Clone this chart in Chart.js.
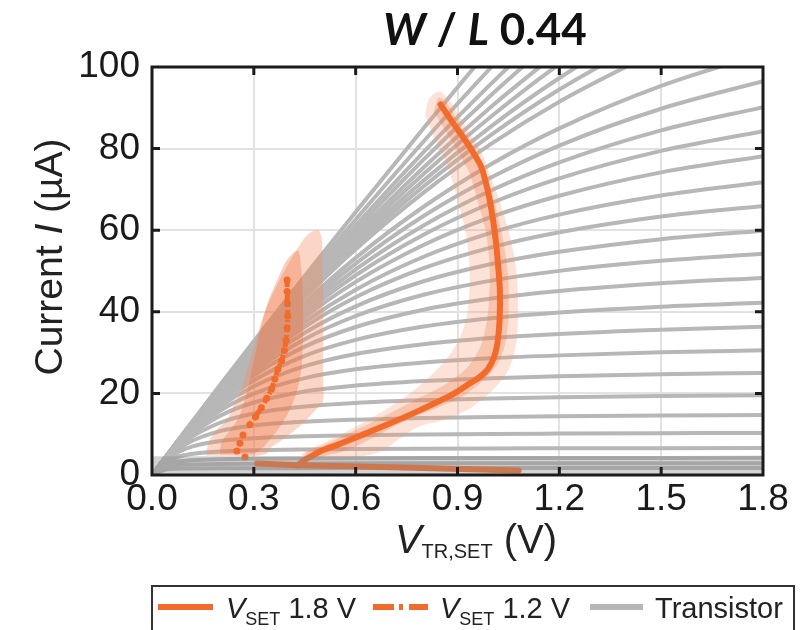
<!DOCTYPE html>
<html>
<head>
<meta charset="utf-8">
<script src="https://cdn.jsdelivr.net/npm/chart.js@4.4.1/dist/chart.umd.min.js"></script>
<style>
  html, body { margin: 0; padding: 0; background: #fff; }
  #wrap { width: 807px; height: 630px; position: relative; }
</style>
</head>
<body>
<div id="wrap"><canvas id="chart"></canvas></div>
<script>
// axis ticks
const xTicks = [0, 0.3, 0.6, 0.9, 1.2, 1.5, 1.8];
const yTicks = [0, 20, 40, 60, 80, 100];

// transistor output curves, current (uA) sampled at these voltages
const vGrid = [0, 0.05, 0.1, 0.2, 0.3, 0.45, 0.6, 0.8, 1.0, 1.2, 1.5, 1.8];
const transistorI = [
    [0, 1.46, 1.58, 1.64, 1.66, 1.68, 1.69, 1.69, 1.70, 1.70, 1.70, 1.70],
    [0, 2.24, 2.55, 2.72, 2.78, 2.83, 2.85, 2.87, 2.88, 2.88, 2.89, 2.90],
    [0, 2.87, 3.50, 3.84, 3.97, 4.06, 4.11, 4.14, 4.16, 4.18, 4.19, 4.20],
    [0, 3.62, 4.94, 5.75, 6.04, 6.25, 6.37, 6.45, 6.50, 6.54, 6.58, 6.60],
    [0, 4.23, 6.49, 8.32, 9.01, 9.48, 9.74, 9.94, 10.07, 10.15, 10.24, 10.30],
    [0, 4.61, 7.62, 10.76, 12.12, 13.08, 13.57, 13.96, 14.21, 14.38, 14.56, 14.68],
    [0, 4.84, 8.41, 12.81, 15.08, 16.77, 17.66, 18.33, 18.76, 19.06, 19.36, 19.57],
    [0, 5.00, 8.97, 14.49, 17.77, 20.47, 21.91, 23.03, 23.71, 24.19, 24.69, 25.03],
    [0, 5.10, 9.36, 15.73, 19.94, 23.74, 25.90, 27.58, 28.62, 29.32, 30.06, 30.56],
    [0, 5.18, 9.65, 16.70, 21.74, 26.67, 29.67, 32.07, 33.56, 34.58, 35.61, 36.32],
    [0, 5.24, 9.86, 17.47, 23.21, 29.21, 33.11, 36.38, 38.42, 39.80, 41.24, 42.20],
    [0, 5.28, 10.04, 18.09, 24.44, 31.47, 36.28, 40.52, 43.24, 45.11, 47.00, 48.31],
    [0, 5.32, 10.17, 18.57, 25.42, 33.30, 38.97, 44.17, 47.64, 50.03, 52.49, 54.20],
    [0, 5.34, 10.27, 18.96, 26.23, 34.87, 41.34, 47.48, 51.71, 54.70, 57.80, 59.88],
    [0, 5.37, 10.37, 19.31, 26.95, 36.30, 43.55, 50.68, 55.80, 59.49, 63.37, 65.96],
    [0, 5.39, 10.44, 19.58, 27.55, 37.50, 45.43, 53.50, 59.42, 63.82, 68.50, 71.74],
    [0, 5.40, 10.51, 19.86, 28.12, 38.68, 47.33, 56.37, 63.25, 68.45, 74.18, 78.13],
    [0, 5.42, 10.57, 20.08, 28.60, 39.68, 48.95, 58.89, 66.66, 72.70, 79.44, 84.24],
    [0, 5.43, 10.62, 20.28, 29.02, 40.57, 50.38, 61.16, 69.78, 76.63, 84.48, 90.17],
    [0, 5.44, 10.67, 20.46, 29.42, 41.42, 51.81, 63.47, 72.98, 80.75, 89.77, 96.52],
    [0, 5.45, 10.71, 20.64, 29.82, 42.25, 53.22, 65.75, 76.23, 84.96, 95.37, 103.3],
    [0, 5.47, 10.78, 20.90, 30.40, 43.50, 55.31, 69.20, 81.20, 91.50, 104.4],
    [0, 5.48, 10.81, 21.02, 30.63, 44.01, 56.20, 70.71, 83.41, 94.47, 108.5],
    [0, 5.48, 10.83, 21.11, 30.86, 44.52, 57.04, 72.15, 85.52, 97.30, 112.5],
    [0, 5.49, 10.86, 21.23, 31.11, 45.07, 58.02, 73.76, 87.93, 100.7, 117.2],
    [0, 5.49, 10.89, 21.34, 31.36, 45.60, 58.93, 75.36, 90.33, 103.9],
    [0, 5.50, 10.92, 21.47, 31.65, 46.25, 60.05, 77.28, 93.20, 107.9],
    [0, 5.51, 10.95, 21.59, 31.92, 46.86, 61.10, 79.11, 95.97, 111.8],
    [0, 5.53, 10.99, 21.76, 32.31, 47.70, 62.62, 81.74, 100.0, 117.5],
    [0, 5.54, 11.05, 21.98, 32.78, 48.76, 64.47, 84.98, 105.0],
];

// V_SET 1.8 V trace
const set18V = [0.850, 0.885, 0.928, 0.950, 0.970, 0.987, 1.000, 1.012, 1.020, 1.025, 1.024, 1.018, 1.008, 0.990, 0.965, 0.937, 0.880, 0.790, 0.700, 0.604, 0.550, 0.504, 0.470, 0.445, 0.430];
const set18I = [90.8, 86.5, 81.4, 78.5, 75.5, 70.5, 65.0, 58.0, 51.0, 45.0, 38.0, 32.5, 29.0, 26.0, 24.0, 22.5, 19.5, 15.9, 12.6, 9.3, 7.5, 6.1, 4.6, 3.5, 2.3];
const set18TailV = [0.31, 0.43, 0.55, 0.80, 1.08];
const set18TailI = [2.8, 2.4, 2.2, 1.7, 1.1];

// V_SET 1.2 V trace
const set12V = [0.398, 0.398, 0.399, 0.400, 0.398, 0.395, 0.390, 0.382, 0.371, 0.362, 0.352, 0.338, 0.322, 0.305, 0.288, 0.268, 0.259, 0.250, 0.274];
const set12I = [47.8, 45.0, 42.0, 39.0, 36.0, 33.0, 30.5, 28.0, 26.0, 23.5, 21.0, 18.8, 16.5, 14.3, 12.3, 9.8, 7.8, 5.9, 4.4];

// spread envelopes (outer and inner) around the traces
const band18OuterV = [0.805, 0.815, 0.845, 0.875, 0.905, 0.935, 0.965, 0.99, 1.02, 1.05, 1.07, 1.078, 1.077, 1.068, 1.045, 1.0, 0.94, 0.86, 0.79, 0.73, 0.68, 0.62, 0.55, 0.46, 0.44, 0.47, 0.504, 0.583, 0.672, 0.76, 0.83, 0.89, 0.925, 0.935, 0.935, 0.925, 0.905, 0.885, 0.86, 0.83];
const band18OuterI = [88, 92, 94, 92, 88, 84, 80, 75, 68, 60, 52, 44, 36, 30, 25, 20.5, 16.5, 13.5, 12.0, 9.0, 6.0, 4.6, 4.3, 4.3, 5.0, 6.5, 7.8, 11.0, 15.2, 20.0, 25.0, 31.0, 38.0, 45.0, 52.0, 59.0, 66.0, 72.0, 78.0, 83.0];
const band18InnerV = [0.83, 0.845, 0.87, 0.905, 0.94, 0.97, 0.995, 1.02, 1.04, 1.05, 1.05, 1.04, 1.02, 0.98, 0.92, 0.84, 0.75, 0.66, 0.58, 0.5, 0.45, 0.455, 0.51, 0.59, 0.68, 0.77, 0.86, 0.93, 0.97, 0.99, 0.995, 0.985, 0.96, 0.935, 0.9, 0.86];
const band18InnerI = [89, 92.5, 91, 86, 81.5, 77, 71, 63, 55, 47, 39, 32, 27.5, 23.5, 19.5, 16.5, 13.5, 9.5, 6.3, 4.5, 4.2, 5.5, 7.5, 10.6, 14.2, 18.2, 22.0, 26.5, 32.0, 40.0, 50.0, 59.0, 67.0, 74.0, 79.5, 85.0];
const band12OuterV = [0.16, 0.162, 0.17, 0.195, 0.221, 0.24, 0.259, 0.275, 0.289, 0.303, 0.318, 0.335, 0.357, 0.39, 0.425, 0.46, 0.49, 0.5, 0.502, 0.504, 0.505, 0.504, 0.504, 0.486, 0.455, 0.427, 0.39, 0.348, 0.339, 0.3];
const band12OuterI = [4.8, 6.5, 8.6, 11.5, 13.5, 17, 20.1, 24.5, 28.2, 32, 36.3, 40.5, 44.6, 50, 55, 59, 60, 58, 52, 45, 35, 25, 18, 16.3, 13.5, 11.4, 9, 6.5, 5.3, 4.6];
const band12InnerV = [0.2, 0.205, 0.23, 0.255, 0.275, 0.29, 0.305, 0.32, 0.34, 0.37, 0.4, 0.43, 0.44, 0.445, 0.445, 0.44, 0.425, 0.4, 0.37, 0.33, 0.3];
const band12InnerI = [5, 8, 11, 14, 19, 24, 30, 36, 42, 48, 53, 55, 50, 42, 34, 26, 20, 15, 11, 7, 5];

// low-current shaded strip
const lowBandV = [0, 1.8, 1.8, 0];
const lowBandI = [0, 0, 4.6, 4.6];

const orange = '#f26b2b';
const grayLine = 'rgb(183 183 183)';
const sans = "'Liberation Sans', Arial, sans-serif";
const titleFont = "Lato, 'Open Sans', sans-serif";

function pts(xs, ys) {
    return ys.map((y, i) => ({ x: xs[i], y }));
}

function band(xs, ys, color) {
    return {
        data: pts(xs, ys),
        fill: 'shape',
        backgroundColor: color,
        borderWidth: 0,
        pointRadius: 0,
        tension: 0.3,
        order: 2,
    };
}

const datasets = [
    {
        data: pts(lowBandV, lowBandI),
        fill: 'shape',
        backgroundColor: 'rgb(140 140 140 / 0.38)',
        borderWidth: 0,
        pointRadius: 0,
        order: 0,
    },
    {
        data: pts(set18V, set18I),
        borderColor: orange,
        borderWidth: 6,
        pointRadius: 0,
        tension: 0.3,
        borderCapStyle: 'round',
        borderJoinStyle: 'round',
        order: 1,
    },
    {
        data: pts(set18TailV, set18TailI),
        borderColor: orange,
        borderWidth: 6,
        pointRadius: 0,
        borderCapStyle: 'round',
        order: 1,
    },
    {
        data: pts(set12V, set12I),
        borderColor: orange,
        borderWidth: 5,
        borderDash: [7, 3, 2, 3],
        pointRadius: 3.5,
        pointBorderWidth: 0,
        pointBackgroundColor: orange,
        segment: {
            borderColor: (ctx) => (ctx.p0DataIndex >= 14 ? 'transparent' : undefined),
        },
        order: 1,
    },
    band(band18InnerV, band18InnerI, 'rgb(240 120 70 / 0.28)'),
    band(band18OuterV, band18OuterI, 'rgb(246 150 110 / 0.28)'),
    band(band12InnerV, band12InnerI, 'rgb(236 112 60 / 0.34)'),
    band(band12OuterV, band12OuterI, 'rgb(244 140 100 / 0.36)'),
    ...transistorI.map((curve) => ({
        data: pts(vGrid, curve),
        borderColor: grayLine,
        borderWidth: 4,
        pointRadius: 0,
        cubicInterpolationMode: 'monotone',
        order: 3,
    })),
];

function drawRuns(ctx, runs, x, y, align) {
    let total = 0;
    runs.forEach((r) => {
        ctx.font = r.font;
        r.w = ctx.measureText(r.text).width;
        total += r.w;
    });
    let cx = align === 'center' ? x - total / 2 : x;
    ctx.textAlign = 'left';
    ctx.textBaseline = 'alphabetic';
    runs.forEach((r) => {
        ctx.font = r.font;
        ctx.fillText(r.text, cx, y + (r.dy || 0));
        cx += r.w;
    });
}

const framePlugin = {
    id: 'frame',
    afterDatasetsDraw(chart) {
        const { ctx, chartArea: a, scales } = chart;
        ctx.save();
        ctx.strokeStyle = '#1b1b1b';
        ctx.lineWidth = 3;
        ctx.strokeRect(a.left, a.top, a.right - a.left, a.bottom - a.top);
        ctx.beginPath();
        xTicks.slice(1, -1).forEach((v) => {
            const px = scales.x.getPixelForValue(v);
            ctx.moveTo(px, a.bottom);
            ctx.lineTo(px, a.bottom - 8);
            ctx.moveTo(px, a.top);
            ctx.lineTo(px, a.top + 8);
        });
        yTicks.slice(1, -1).forEach((v) => {
            const py = scales.y.getPixelForValue(v);
            ctx.moveTo(a.left, py);
            ctx.lineTo(a.left + 8, py);
            ctx.moveTo(a.right, py);
            ctx.lineTo(a.right - 8, py);
        });
        ctx.stroke();
        ctx.restore();
    },
    afterDraw(chart) {
        const { ctx } = chart;
        ctx.save();
        ctx.fillStyle = '#111';

        // title
        drawRuns(ctx, [
            { text: 'W', font: `italic bold 44px ${titleFont}` },
            { text: ' / ', font: `bold 44px ${titleFont}` },
            { text: 'L', font: `italic bold 44px ${titleFont}` },
            { text: ' 0.44', font: `bold 44px ${titleFont}` },
        ], 485, 45, 'center');

        // x axis title
        ctx.fillStyle = '#222';
        drawRuns(ctx, [
            { text: 'V', font: `italic 40px ${sans}` },
            { text: 'TR,SET', font: `20px ${sans}`, dy: 5 },
            { text: ' (V)', font: `40px ${sans}` },
        ], 476, 553, 'center');

        // y axis title
        ctx.save();
        ctx.translate(62, 257);
        ctx.rotate(-Math.PI / 2);
        drawRuns(ctx, [
            { text: 'Current ', font: `39px ${sans}` },
            { text: 'I', font: `italic 39px ${sans}` },
            { text: ' (µA)', font: `39px ${sans}` },
        ], 0, 0, 'center');
        ctx.restore();

        // legend
        const ly = 607;
        ctx.strokeStyle = '#333';
        ctx.lineWidth = 2;
        ctx.strokeRect(152, 586, 642, 70);

        ctx.lineWidth = 6;
        ctx.strokeStyle = orange;
        ctx.beginPath();
        ctx.moveTo(158, ly);
        ctx.lineTo(213, ly);
        ctx.stroke();
        drawRuns(ctx, [
            { text: 'V', font: `italic 29px ${sans}` },
            { text: 'SET', font: `18px ${sans}`, dy: 7 },
            { text: ' 1.8 V', font: `29px ${sans}` },
        ], 226, 618, 'left');

        ctx.setLineDash([21, 5, 4, 6]);
        ctx.beginPath();
        ctx.moveTo(373, ly);
        ctx.lineTo(428, ly);
        ctx.stroke();
        ctx.setLineDash([]);
        drawRuns(ctx, [
            { text: 'V', font: `italic 29px ${sans}` },
            { text: 'SET', font: `18px ${sans}`, dy: 7 },
            { text: ' 1.2 V', font: `29px ${sans}` },
        ], 440, 618, 'left');

        ctx.strokeStyle = grayLine;
        ctx.beginPath();
        ctx.moveTo(590, ly);
        ctx.lineTo(643, ly);
        ctx.stroke();
        drawRuns(ctx, [{ text: 'Transistor', font: `29px ${sans}` }], 655, 618, 'left');

        ctx.restore();
    },
};

new Chart(document.getElementById('chart'), {
    type: 'line',
    data: { datasets },
    options: {
        responsive: true,
        maintainAspectRatio: false,
        animation: false,
        layout: { padding: { top: 67, right: 44, left: 0, bottom: 0 } },
        plugins: {
            legend: { display: false },
            tooltip: { enabled: false },
        },
        scales: {
            x: {
                type: 'linear',
                min: 0,
                max: 1.8,
                afterBuildTicks: (scale) => {
                    scale.ticks = xTicks.map((v) => ({ value: v }));
                },
                afterFit: (scale) => {
                    scale.height = 155;
                },
                ticks: {
                    color: '#1a1a1a',
                    font: { family: sans, size: 37 },
                    padding: 3,
                    maxRotation: 0,
                    autoSkip: false,
                    callback: (v) => v.toFixed(1),
                },
                grid: { color: '#e2e2e2', lineWidth: 2, drawTicks: false },
                border: { display: false },
            },
            y: {
                min: 0,
                max: 100,
                afterBuildTicks: (scale) => {
                    scale.ticks = yTicks.map((v) => ({ value: v }));
                },
                afterFit: (scale) => {
                    scale.width = 152;
                },
                ticks: {
                    color: '#1a1a1a',
                    font: { family: sans, size: 37 },
                    padding: 12,
                    autoSkip: false,
                },
                grid: { color: '#e2e2e2', lineWidth: 2, drawTicks: false },
                border: { display: false },
            },
        },
    },
    plugins: [framePlugin],
});
</script>
</body>
</html>
